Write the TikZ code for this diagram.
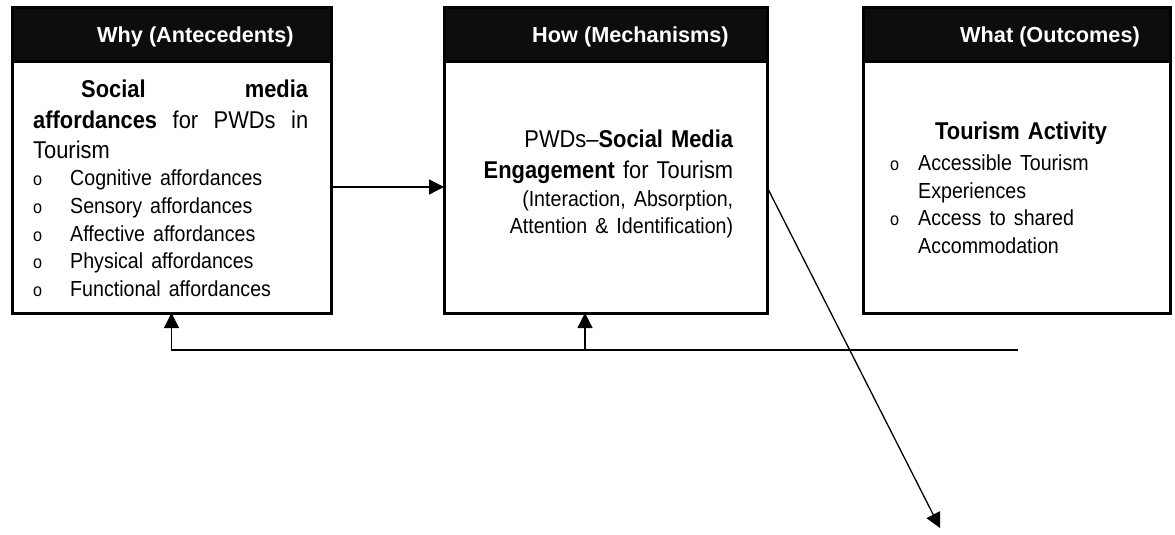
\documentclass[tikz,border=0pt]{standalone}
\usepackage{fontspec}
\setmainfont{Liberation Sans}
\newfontfamily\narrowfont{Liberation Sans}[FakeStretch=0.9,Ligatures=TeX]
\usetikzlibrary{arrows.meta}
\newcommand{\mainsz}{\narrowfont\fontsize{24.3}{27.7}\selectfont}
\newcommand{\subsz}{\fontsize{21.8}{27.7}\selectfont}
\newcommand{\bulA}{\makebox[37pt][l]{\fontsize{18}{18}\selectfont o}}
\newcommand{\bulB}{\makebox[28pt][l]{\fontsize{18}{18}\selectfont o}}
\begin{document}
\begin{tikzpicture}[x=1pt,y=-1pt,
  box/.style={draw=black, line width=3pt, minimum height=305pt, inner sep=0pt, outer sep=0pt, anchor=north west},
  hdr/.style={fill=black!95, minimum height=54pt, inner sep=0pt, outer sep=0pt, anchor=north west},
  htext/.style={text=white, font=\bfseries\fontsize{21.7}{26}\selectfont, anchor=base west, inner sep=0pt},
  body/.style={anchor=north west, inner sep=0pt, font=\mainsz},
  conn/.style={line width=1.3pt, -{Triangle[length=15pt,width=15pt]}}
]
\useasboundingbox (0,0) rectangle (1175,535);

% headers
\node[hdr, minimum width=319pt] (h1) at (12,8) {};
\node[hdr, minimum width=323pt] (h2) at (444,8) {};
\node[hdr, minimum width=307pt] (h3) at (863,8) {};
\draw[line width=3pt] (h1.south west) -- (h1.south east);
\draw[line width=3pt] (h2.south west) -- (h2.south east);
\draw[line width=3pt] (h3.south west) -- (h3.south east);

% boxes
\node[box, minimum width=319pt] (b1) at (12,8) {};
\node[box, minimum width=323pt] (b2) at (444,8) {};
\node[box, minimum width=307pt] (b3) at (863,8) {};

% header texts
\node[htext] (t1) at (97,43) {Why (Antecedents)};
\node[htext] (t2) at (532,43) {How (Mechanisms)};
\node[htext] (t3) at (960,43) {What (Outcomes)};

% box 1 content
\node[body, text width=275pt, align=left] (c1) at (33,79.3) {%
\hspace*{48pt}\textbf{Social}\hfill\textbf{media}\\[3.3pt]
\textbf{affordances}\hfill for\hfill PWDs\hfill in\\[2.3pt]
Tourism\\
{\subsz\bulA Cognitive affordances}\\
{\subsz\bulA Sensory affordances}\\
{\subsz\bulA Affective affordances}\\
{\subsz\bulA Physical affordances}\\
{\subsz\bulA Functional affordances}};

% box 2 content
\node[body, text width=251pt, align=right] (c2) at (482,129.3) {%
PWDs–\textbf{Social Media}\\[3.5pt]
\textbf{Engagement} for Tourism\\
{\subsz (Interaction, Absorption,}\\
{\subsz Attention \& Identification)\hspace*{20pt}}};

% box 3 content
\node[body, text width=270pt, align=left] (c3) at (890,121.3) {%
\hspace*{45pt}\textbf{Tourism Activity}\\[3.5pt]
{\subsz\bulB Accessible Tourism}\\
{\subsz\hspace*{28pt}Experiences}\\
{\subsz\bulB Access to shared}\\
{\subsz\hspace*{28pt}Accommodation}};

% connectors
\coordinate (fbR) at (1018,350);
\coordinate (fbM) at (585,350);
\coordinate (tip) at (940,528);
\draw[conn] ([yshift=-26.5pt]b1.east) -- ([yshift=-26.5pt]b2.west);
\draw[conn] (fbR) -- (fbR -| b1.south) -- (b1.south);
\draw[conn] (fbM) -- (fbM |- b2.south);
\draw[conn] ([yshift=-26.5pt]b2.east) -- (tip);
\end{tikzpicture}
\end{document}
